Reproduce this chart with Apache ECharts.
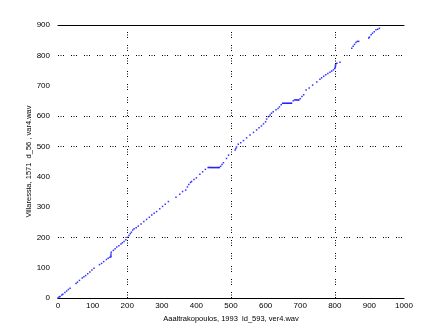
<!DOCTYPE html>
<html><head><meta charset="utf-8">
<script src="https://cdn.jsdelivr.net/npm/echarts@6/dist/echarts.min.js"></script>
<style>html,body{margin:0;padding:0;background:#fff}#c{width:447px;height:335px}</style>
</head><body><div id="c"></div>
<script>
const xLabel = "Aaaltrakopoulos, 1993  ld_593, ver4.wav";
const yLabel = "Villaressia, 1571  d_56 , var4.wav";
const xTicks = [0,100,200,300,400,500,600,700,800,900,1000];
const yTicks = [0,100,200,300,400,500,600,700,800,900];
const xGrid = [200,500,800];
const yGrid = [200,500,600,800];
const points = [
[0,0],[3,3],[6,5],[11,10],[14,12],[20,18],[25,23],[30,28],[35,32],
[52,48],[56,52],[62,58],[70,66],[75,70],[80,74],[86,80],[92,86],[98,92],[104,98],
[120,110],[126,114],[132,120],[140,127],[145,131],[150,134],[153,136],[153,140],[153,145],[154,151],[160,157],[165,162],[170,168],[176,172],[182,178],[186,182],[191,186],
[196,192],[201,200],[205,206],[209,212],[212,217],[216,224],[220,228],[226,232],[232,237],[240,244],[248,252],[256,259],[264,266],[271,274],[278,279],[285,285],[294,294],[302,302],[310,309],[319,318],
[341,332],[352,342],[360,351],[369,356],[374,366],[378,374],[383,381],[386,384],[393,391],[400,396],[410,408],[418,416],[426,424],[434,430],
[437,430],[440,430],[443,430],[446,430],[449,430],[452,430],[455,430],[458,430],[461,430],[464,430],[466,430],
[470,434],[474,440],[478,446],
[487,460],[493,471],
[512,488],[514,493],[516,498],[521,507],[528,512],[536,519],[545,528],[555,537],[565,546],[574,554],[581,561],[588,567],[594,574],[600,581],
[603,590],[608,598],[613,603],[617,609],[622,614],[630,621],[636,625],[640,630],[645,637],[649,642],
[652,642],[655,642],[658,642],[661,642],[664,642],[667,642],[670,642],[673,642],[675,642],
[680,650],[684,653],[687,653],[690,653],[693,653],[696,653],[700,657],[705,664],[710,670],[717,686],[726,692],[736,702],
[748,712],[757,721],[762,726],[768,731],[774,736],[780,740],[786,744],[791,748],[796,752],
[800,757],[801,760],[802,764],[802,768],[803,772],[806,774],[815,777],
[849,823],[853,830],[857,836],[861,842],[865,846],[869,846],
[898,857],[900,860],[905,868],[909,873],[914,878],[919,884],[924,886],[929,889]
];
const dotted = [1,1.5,1,1.5,1,7];
const chart = echarts.init(document.getElementById('c'), null, {renderer:'canvas'});
const lblStyle = {color:'#000', fontSize:8, fontFamily:'Liberation Sans, Arial, sans-serif'};
chart.setOption({
  animation:false,
  backgroundColor:'#fff',
  grid:{left:58, right:43, top:25, bottom:37},
  xAxis:[{
    type:'value', min:0, max:1000, interval:100, position:'bottom',
    name:xLabel, nameLocation:'middle', nameGap:10,
    nameTextStyle:Object.assign({}, lblStyle, {fontSize:7.5}),
    axisLine:{show:true, lineStyle:{color:'#000', width:1}},
    axisTick:{show:false},
    axisLabel:Object.assign({margin:4, formatter:v=>xTicks.includes(v)?String(v):''}, lblStyle),
    splitLine:{show:false}
  },{
    type:'value', min:0, max:1000, position:'top',
    axisLine:{show:true, onZero:false, lineStyle:{color:'#000', width:1}},
    axisTick:{show:false}, axisLabel:{show:false}, splitLine:{show:false}
  }],
  yAxis:{
    type:'value', min:0, max:900, interval:100,
    name:yLabel, nameLocation:'middle', nameGap:25, nameRotate:90, nameMoveOverlap:false,
    nameTextStyle:Object.assign({}, lblStyle, {fontSize:7.5}),
    axisLine:{show:false}, axisTick:{show:false},
    axisLabel:Object.assign({margin:8, formatter:v=>yTicks.includes(v)?String(v):''}, lblStyle),
    splitLine:{show:false}
  },
  series:[{
    type:'scatter', xAxisIndex:0, data:points, symbol:'rect', symbolSize:1.5,
    itemStyle:{color:'#0000ff'}, silent:true,
    markLine:{
      silent:true, symbol:['none','none'], label:{show:false}, animation:false,
      lineStyle:{color:'#000', width:1, type:dotted},
      emphasis:{disabled:true},
      data: xGrid.map(v=>({xAxis:v})).concat(yGrid.map(v=>({yAxis:v})))
    }
  }]
});
</script></body></html>
